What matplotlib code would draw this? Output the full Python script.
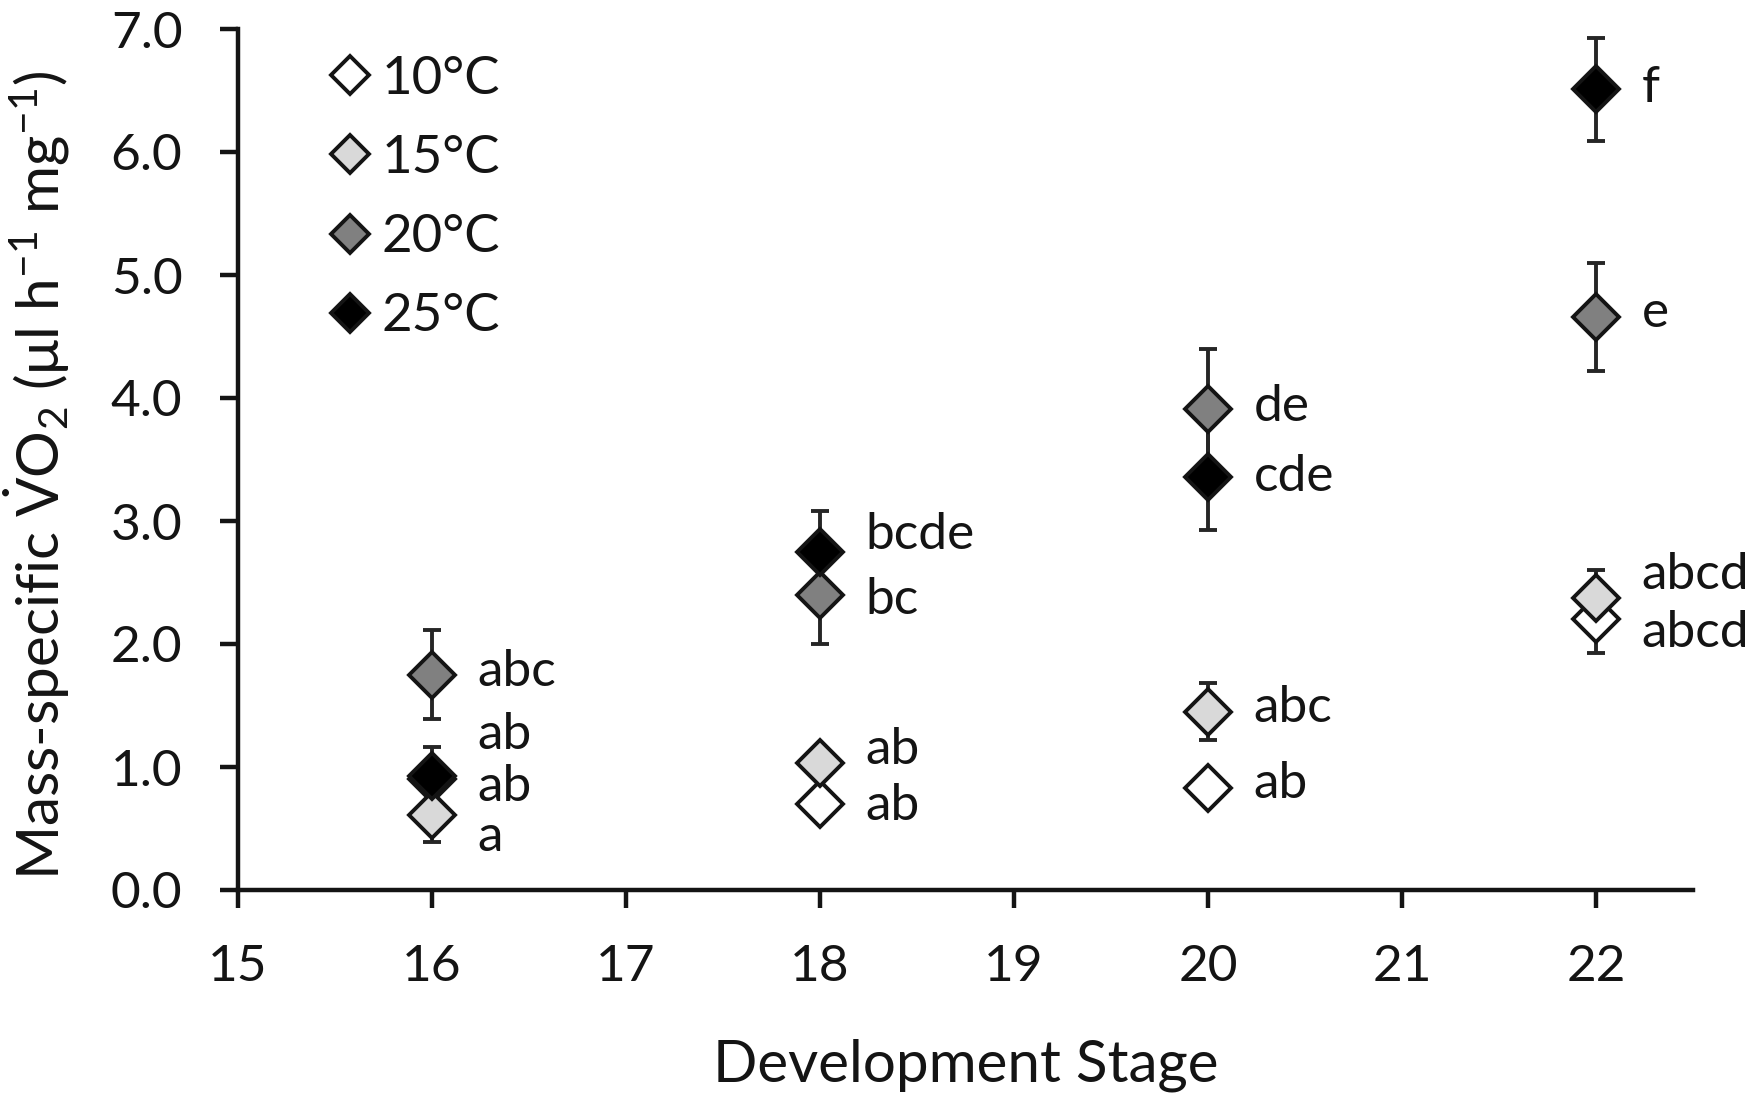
import matplotlib
matplotlib.use("Agg")
import matplotlib.pyplot as plt
from matplotlib.lines import Line2D

plt.rcParams['font.family'] = ['Lato', 'DejaVu Sans']
plt.rcParams['mathtext.fontset'] = 'custom'
plt.rcParams['mathtext.rm'] = 'Lato'
plt.rcParams['mathtext.it'] = 'Lato:italic'
plt.rcParams['mathtext.bf'] = 'Lato:bold'

stages = [16, 18, 20, 22]
series = ["10°C", "15°C", "20°C", "25°C"]
colors = ["#ffffff", "#d9d9d9", "#808080", "#000000"]

mean_10 = [0.90, 0.70, 0.83, 2.20]
err_10 = [0.05, 0.04, 0.04, 0.27]
mean_15 = [0.61, 1.03, 1.45, 2.37]
err_15 = [0.22, 0.05, 0.23, 0.23]
mean_20 = [1.75, 2.40, 3.91, 4.66]
err_20 = [0.36, 0.40, 0.49, 0.44]
mean_25 = [0.93, 2.75, 3.36, 6.51]
err_25 = [0.23, 0.33, 0.43, 0.42]

letters_10 = ["ab", "ab", "ab", "abcd"]
letters_15 = ["a", "ab", "abc", "abcd"]
letters_20 = ["abc", "bc", "de", "e"]
letters_25 = ["ab", "bcde", "cde", "f"]
label_y_10 = [1.26, 0.68, 0.86, 2.09]
label_y_15 = [0.43, 1.14, 1.48, 2.56]
label_y_20 = [1.77, 2.36, 3.93, 4.69]
label_y_25 = [0.84, 2.89, 3.36, 6.52]

means = [mean_10, mean_15, mean_20, mean_25]
errs = [err_10, err_15, err_20, err_25]
letters = [letters_10, letters_15, letters_20, letters_25]
label_ys = [label_y_10, label_y_15, label_y_20, label_y_25]

xticks = [15, 16, 17, 18, 19, 20, 21, 22]
yticks = [0, 1, 2, 3, 4, 5, 6, 7]

ink = '#141414'

fig = plt.figure(figsize=(17.55, 10.98), dpi=100)
ax = fig.add_axes([238 / 1755, 1 - 890 / 1098, 1455 / 1755, 861 / 1098])

for i in range(4):
    ax.errorbar(stages, means[i], yerr=errs[i], fmt='none', ecolor='#262626',
                elinewidth=2.8, capsize=6.5, capthick=2.8, zorder=2)
    ax.plot(stages, means[i], linestyle='none', marker='D', markersize=23.5,
            markerfacecolor=colors[i], markeredgecolor=ink,
            markeredgewidth=2.8, zorder=3 + i)
    for s, ly, t in zip(stages, label_ys[i], letters[i]):
        ax.text(s + 0.235, ly, t, fontsize=37, va='center', ha='left', color=ink, zorder=20)

ax.set_xlim(15, 22.5)
ax.set_ylim(0, 7)
ax.set_xticks(xticks)
ax.set_xticklabels([str(v) for v in xticks])
ax.set_yticks(yticks)
ax.set_yticklabels([f"{v:.1f}" for v in yticks])

for side in ['top', 'right']:
    ax.spines[side].set_visible(False)
for side in ['left', 'bottom']:
    ax.spines[side].set_linewidth(3.2)
    ax.spines[side].set_color(ink)
    ax.spines[side].set_capstyle('projecting')
ax.tick_params(axis='both', direction='out', width=3.2, length=13, labelsize=37,
               colors=ink)
ax.tick_params(axis='x', pad=26)
ax.tick_params(axis='y', pad=27)

ax.set_xlabel("Development Stage", fontsize=42, color=ink, va='top')
ax.xaxis.set_label_coords(0.5, -0.172)
ax.set_ylabel(r"Mass-specific $\dot{\mathrm{V}}$O$_2$ ($\mathrm{\mu}$l h$^{-1}$ mg$^{-1}$)",
              fontsize=42, color=ink)
ax.yaxis.set_label_coords(-0.114, 0.482)

handles = [Line2D([], [], linestyle='none', marker='D', markersize=19,
                  markerfacecolor=c, markeredgecolor=ink, markeredgewidth=2.8)
           for c in colors]
leg = ax.legend(handles, series, loc='upper left', bbox_to_anchor=(0.0444, 0.9935),
                frameon=False, fontsize=38, handletextpad=0.1, labelspacing=0.61,
                handlelength=1.0, borderaxespad=0, borderpad=0.4)
for t in leg.get_texts():
    t.set_color(ink)

fig.savefig("out.png", dpi=100)
